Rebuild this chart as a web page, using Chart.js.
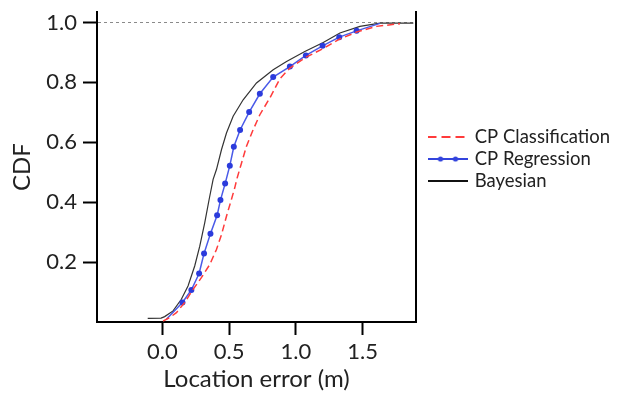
<!DOCTYPE html>
<html><head><meta charset="utf-8">
<script src="https://cdn.jsdelivr.net/npm/chart.js@4.4.0/dist/chart.umd.min.js"></script>
<style>html,body{margin:0;padding:0;background:#fff;}</style>
</head><body>
<canvas id="c" width="625" height="398"></canvas>
<script>
// ---- data ----
const seriesNames = ['CP Classification', 'CP Regression', 'Bayesian'];

const classErr = [0.005, 0.055, 0.105, 0.167, 0.23, 0.292, 0.355, 0.405, 0.443, 0.48, 0.517, 0.542, 0.56, 0.593, 0.63, 0.675, 0.73, 0.805, 0.88, 0.955, 1.08, 1.205, 1.33, 1.455, 1.605, 1.78];
const classCdf = [0.003, 0.015, 0.031, 0.065, 0.109, 0.148, 0.192, 0.242, 0.292, 0.353, 0.409, 0.448, 0.481, 0.531, 0.587, 0.637, 0.692, 0.748, 0.812, 0.848, 0.885, 0.913, 0.945, 0.968, 0.987, 0.996];

const regErr = [0.03, 0.15, 0.217, 0.275, 0.312, 0.36, 0.41, 0.435, 0.47, 0.505, 0.535, 0.582, 0.65, 0.73, 0.83, 0.955, 1.075, 1.2, 1.325, 1.455, 1.63];
const regCdf = [0.009, 0.065, 0.107, 0.162, 0.229, 0.295, 0.356, 0.407, 0.462, 0.522, 0.585, 0.641, 0.701, 0.762, 0.818, 0.853, 0.89, 0.922, 0.951, 0.972, 0.997];

const bayesErr = [-0.11, -0.01, 0.017, 0.08, 0.142, 0.192, 0.242, 0.28, 0.317, 0.35, 0.38, 0.405, 0.443, 0.48, 0.53, 0.605, 0.705, 0.83, 0.93, 1.067, 1.205, 1.33, 1.48, 1.63, 1.88];
const bayesCdf = [0.012, 0.013, 0.018, 0.037, 0.076, 0.12, 0.187, 0.253, 0.331, 0.409, 0.476, 0.509, 0.576, 0.631, 0.687, 0.742, 0.798, 0.842, 0.87, 0.903, 0.933, 0.965, 0.987, 0.998, 0.998];

const xTicks = [0.0, 0.5, 1.0, 1.5];
const yTicks = [0.2, 0.4, 0.6, 0.8, 1.0];
const refLevel = 1.0;

// ---- helpers ----
const pts = (xs, ys) => xs.map((x, i) => ({x: x, y: ys[i]}));
const FONT = 'Lato';
const TXT = '#222';
const LEGEND_W = 199;

function legendSample(color, dash, dots) {
  const c = document.createElement('canvas');
  c.width = 40; c.height = 10;
  const g = c.getContext('2d');
  g.strokeStyle = color; g.lineWidth = 2; g.setLineDash(dash);
  g.beginPath(); g.moveTo(0, 5); g.lineTo(40, 5); g.stroke();
  if (dots) {
    g.fillStyle = color;
    [13, 28].forEach(x => { g.beginPath(); g.arc(x, 5, 2.6, 0, Math.PI * 2); g.fill(); });
  }
  return c;
}
const samples = [
  legendSample('#ff3b3b', [9, 5], false),
  legendSample('#3344dd', [], true),
  legendSample('#111111', [], false)
];

const regLast = regErr.length - 1;

// widen the right-hand legend box beyond the default half-width cap
const legendWidthPlugin = {
  id: 'legendWidth',
  beforeUpdate(chart) {
    const lg = chart.legend;
    if (lg && !lg._wPatched) {
      const f = lg.fit;
      lg.fit = function () { f.call(this); this.width = LEGEND_W; };
      lg._wPatched = true;
    }
  }
};

const noEdgePad = s => { s.paddingTop = 0; s.paddingBottom = 0; };

new Chart(document.getElementById('c'), {
  type: 'line',
  plugins: [legendWidthPlugin],
  data: {
    datasets: [
      {
        label: seriesNames[0], data: pts(classErr, classCdf),
        borderColor: '#ff3b3b', borderWidth: 1.5, borderDash: [7, 4],
        pointRadius: 0, fill: false, tension: 0
      },
      {
        label: seriesNames[1], data: pts(regErr, regCdf),
        borderColor: '#4a5ae8', borderWidth: 1.5,
        pointRadius: ctx => (ctx.dataIndex === 0 || ctx.dataIndex === regLast) ? 0 : 3,
        pointBackgroundColor: '#2b3bdc', pointBorderColor: '#2b3bdc', pointBorderWidth: 0,
        fill: false, tension: 0
      },
      {
        label: seriesNames[2], data: pts(bayesErr, bayesCdf),
        borderColor: '#333333', borderWidth: 1.2,
        pointRadius: 0, fill: false, tension: 0
      }
    ]
  },
  options: {
    responsive: false,
    animation: false,
    devicePixelRatio: 1,
    parsing: false,
    layout: {padding: {top: 12, right: 0, bottom: 0, left: 0}},
    plugins: {
      tooltip: {enabled: false},
      legend: {
        position: 'right',
        align: 'start',
        title: {display: true, text: ' ', padding: {top: 97.8, bottom: 0}, font: {size: 12}},
        labels: {
          usePointStyle: true,
          pointStyleWidth: 36,
          padding: 3.5,
          color: TXT,
          font: {family: FONT, size: 18.5},
          generateLabels: chart => chart.data.datasets.map((ds, i) => ({
            text: ds.label, pointStyle: samples[i], fillStyle: 'rgba(0,0,0,0)',
            strokeStyle: 'rgba(0,0,0,0)', lineWidth: 0, hidden: false, datasetIndex: i,
            fontColor: TXT
          }))
        }
      }
    },
    scales: {
      x: {
        type: 'linear', min: -0.49, max: 1.9,
        afterBuildTicks: s => { s.ticks = xTicks.map(v => ({value: v})); },
        afterFit: s => { s.height = 76; s.paddingLeft = 0; s.paddingRight = 0; },
        ticks: {
          callback: v => v.toFixed(1), color: TXT, padding: 4,
          font: {family: FONT, size: 22}, maxRotation: 0, autoSkip: false
        },
        grid: {drawOnChartArea: false, tickLength: 13, tickWidth: 2, tickColor: '#000'},
        border: {color: '#000', width: 2},
        title: {display: true, text: 'Location error (m)', color: TXT,
                font: {family: FONT, size: 24}, padding: {top: 0, bottom: 4}}
      },
      y: {
        type: 'linear', min: 0, max: 1.035,
        afterBuildTicks: s => { s.ticks = yTicks.map(v => ({value: v})); },
        afterFit: s => { s.width = 97; noEdgePad(s); },
        ticks: {callback: v => v.toFixed(1), color: TXT, padding: 6, font: {family: FONT, size: 22}},
        grid: {
          color: ctx => (ctx.tick && Math.abs(ctx.tick.value - refLevel) < 1e-9) ? '#8a8a8a' : 'rgba(0,0,0,0)',
          lineWidth: 1, tickLength: 14, tickWidth: 2, tickColor: '#000', tickBorderDash: [],
          borderDash: [3, 3]
        },
        border: {color: '#000', width: 2, dash: [3, 3]},
        title: {display: true, text: 'CDF', color: TXT, font: {family: FONT, size: 24},
                padding: {top: 8, bottom: 4}}
      },
      y2: {
        type: 'linear', position: 'right', min: 0, max: 1,
        afterFit: s => { s.width = 10; noEdgePad(s); },
        ticks: {display: false},
        grid: {drawOnChartArea: false, drawTicks: false},
        border: {color: '#000', width: 2}
      }
    }
  }
});
</script>
</body></html>
